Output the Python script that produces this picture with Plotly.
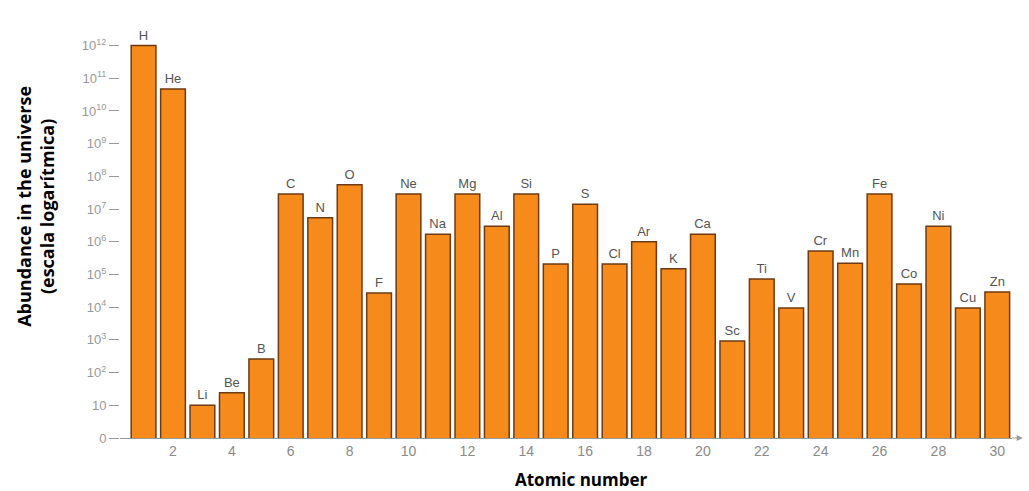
import plotly.graph_objects as go

atomic_numbers = list(range(1, 31))
symbols = ["H", "He", "Li", "Be", "B", "C", "N", "O", "F", "Ne",
           "Na", "Mg", "Al", "Si", "P", "S", "Cl", "Ar", "K", "Ca",
           "Sc", "Ti", "V", "Cr", "Mn", "Fe", "Co", "Ni", "Cu", "Zn"]
abundance = [1e12, 4.7e10, 10, 24, 260, 2.9e7, 5.4e6, 5.5e7, 2.7e4, 2.9e7,
             1.7e6, 2.9e7, 3.0e6, 2.9e7, 2.1e5, 1.4e7, 2.1e5, 1.0e6, 1.5e5, 1.7e6,
             930, 7.3e4, 9.5e3, 5.2e5, 2.2e5, 2.9e7, 5.1e4, 3.0e6, 9.5e3, 2.9e4]

y_tick_vals = [10 ** k for k in range(13)]
y_tick_text = ["0", "10"] + [f"10<sup>{k}</sup>" for k in range(2, 13)]
x_tick_vals = list(range(2, 31, 2))

fig = go.Figure()
fig.add_trace(go.Bar(
    x=atomic_numbers, y=abundance, text=symbols,
    textposition="outside", cliponaxis=False,
    textfont=dict(family="Liberation Sans", size=13, color="#555555"),
    marker=dict(color="#F68B1C", line=dict(color="#6E3A12", width=1.5)),
    width=0.84,
))

fig.update_layout(
    width=1029, height=491,
    margin=dict(l=120, r=17, t=39, b=53),
    plot_bgcolor="white", paper_bgcolor="white",
    showlegend=False,
    xaxis=dict(range=[0.2, 30.5], tickvals=x_tick_vals, showgrid=False,
               showline=True, linecolor="#999999", linewidth=1.2,
               ticks="", zeroline=False,
               tickfont=dict(family="Liberation Sans", size=14, color="#8a8a8a")),
    yaxis=dict(type="log", range=[0, 12.2], tickvals=y_tick_vals, ticktext=y_tick_text,
               showgrid=False, showline=False, zeroline=False,
               ticks="outside", ticklen=10, tickcolor="#999999", tickwidth=1.2,
               tickfont=dict(family="Liberation Sans", size=13, color="#999999")),
    annotations=[
        dict(text="<b>Abundance in the universe<br>(escala logarítmica)</b>",
             xref="paper", yref="paper", x=-0.095, y=0.58, textangle=-90,
             showarrow=False, xanchor="center", yanchor="middle",
             font=dict(family="Open Sans", size=18, color="black")),
        dict(text="<b>Atomic number</b>", xref="paper", yref="paper",
             x=0.517, y=-0.07, showarrow=False, xanchor="center", yanchor="top",
             font=dict(family="Open Sans", size=17, color="black")),
        dict(x=1.012, y=0, xref="paper", yref="paper", ax=-12, ay=0,
             showarrow=True, arrowhead=2, arrowsize=1, arrowwidth=1.2,
             arrowcolor="#999999", text=""),
    ],
)

fig.write_html("out.html", config={"displayModeBar": False},
               post_script="document.body.style.margin='0';")
